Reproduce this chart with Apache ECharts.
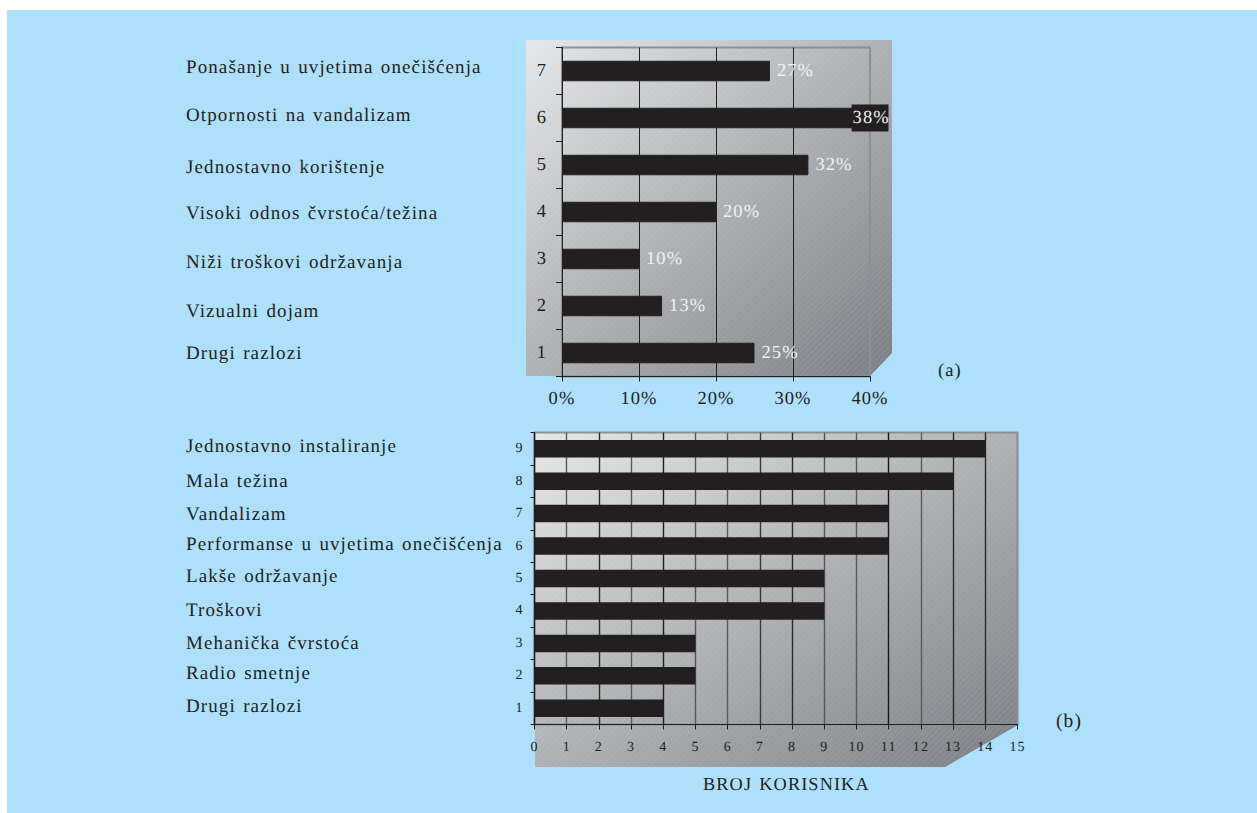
<!DOCTYPE html>
<html>
<head>
<meta charset="utf-8">
<style>
  html, body { margin: 0; padding: 0; background: #fff; }
  #chart { position: absolute; left: 0; top: 0; width: 1257px; height: 813px; }
  /* The typesetting of the figure is loose: open up letters and words */
  #chart svg text { letter-spacing: 1.1px; word-spacing: 1.5px; text-rendering: geometricPrecision; }
</style>
<script src="https://cdn.jsdelivr.net/npm/echarts@6/dist/echarts.min.js"></script>
</head>
<body>
<div id="chart"></div>
<script>
// Survey (a): reasons in per cent, listed from row 1 upward
const reasonsA = ['Drugi razlozi', 'Vizualni dojam', 'Niži troškovi održavanja', 'Visoki odnos čvrstoća/težina',
  'Jednostavno korištenje', 'Otpornosti na vandalizam', 'Ponašanje u uvjetima onečišćenja'];
const rowsA = ['1', '2', '3', '4', '5', '6', '7'];
const percentA = [25, 13, 10, 20, 32, 38, 27];

// Survey (b): number of users, listed from row 1 upward
const reasonsB = ['Drugi razlozi', 'Radio smetnje', 'Mehanička čvrstoća', 'Troškovi', 'Lakše održavanje',
  'Performanse u uvjetima onečišćenja', 'Vandalizam', 'Mala težina', 'Jednostavno instaliranje'];
const rowsB = ['1', '2', '3', '4', '5', '6', '7', '8', '9'];
const usersB = [4, 5, 5, 9, 9, 11, 11, 13, 14];

// Vertical centres of the reason column, same order as the lists above
const reasonYA = [353.5, 311.5, 262.5, 213.5, 167.5, 115.5, 67.5];
const reasonYB = [706.5, 673.5, 643.5, 610.5, 576, 544.5, 514.5, 481, 446];

const INK = '#231f20';
const FRAME = '#8b9095';
const SERIF = '"Liberation Serif", serif';

// Grid line shades, one per tick
const gridShadesA = [INK, INK, INK, INK, FRAME];
const gridShadesB = [INK, '#5a5a5e', '#2e2a2b', '#5a5a5e', '#231f20', '#55565a', '#5a5a5e', '#3a3a3c',
  '#2e2a2b', '#55565a', '#5a5a5e', '#1c1819', '#5a5a5e', '#2e2a2b', '#2e2a2b', FRAME];

// Fine diagonal hatch laid over the shaded panels
function hatchTile() {
  const c = document.createElement('canvas');
  c.width = c.height = 6;
  const g = c.getContext('2d');
  g.strokeStyle = 'rgba(255,255,255,0.09)';
  g.lineWidth = 1;
  g.beginPath();
  g.moveTo(-1, 7); g.lineTo(7, -1);
  g.moveTo(-1, 1); g.lineTo(1, -1);
  g.moveTo(5, 7); g.lineTo(7, 5);
  g.stroke();
  return c;
}
const hatch = { image: hatchTile(), repeat: 'repeat' };
const shade = {
  type: 'linear', x: 0, y: 0, x2: 1, y2: 1,
  colorStops: [{ offset: 0, color: '#e5e7e9' }, { offset: 0.5, color: '#aeb1b4' }, { offset: 1, color: '#7b7f83' }]
};

function panel(points) {
  return [
    { type: 'polygon', z: -2, silent: true, shape: { points }, style: { fill: shade } },
    { type: 'polygon', z: -1, silent: true, shape: { points }, style: { fill: hatch } }
  ];
}
function caption(text, x, y, size) {
  return { type: 'text', z: 5, silent: true, x, y,
    style: { text, fill: INK, font: `${size}px ${SERIF}`, verticalAlign: 'middle' } };
}

function valueAxis(gridIndex, max, interval, fontSize, margin, formatter, splitColor, splitWidth) {
  return {
    type: 'value', gridIndex, min: 0, max, interval,
    axisLine: { show: true, lineStyle: { color: INK, width: 1 } },
    axisTick: { show: true, length: 5, lineStyle: { color: INK, width: 1 } },
    axisLabel: { color: INK, fontFamily: SERIF, fontSize, margin, formatter, hideOverlap: false, showMinLabel: true, showMaxLabel: true },
    splitLine: { show: true, lineStyle: { color: splitColor, width: splitWidth } }
  };
}
function rowAxis(gridIndex, rows, fontSize, margin, tickLen) {
  return {
    type: 'category', gridIndex, data: rows,
    axisLine: { show: true, onZero: false, lineStyle: { color: INK, width: 1 } },
    axisTick: { show: true, length: tickLen, alignWithLabel: false, lineStyle: { color: INK, width: 1 } },
    axisLabel: { color: INK, fontFamily: SERIF, fontSize, margin }
  };
}

const topValue = Math.max(...percentA);

const option = {
  animation: false,
  backgroundColor: '#fff',
  grid: [
    { left: 562, top: 47.5, width: 308, height: 329, show: true, borderColor: FRAME, borderWidth: 2, backgroundColor: 'transparent' },
    { left: 534.5, top: 432.5, width: 483, height: 292, show: true, borderColor: FRAME, borderWidth: 2, backgroundColor: 'transparent' }
  ],
  xAxis: [
    valueAxis(0, 40, 10, 18.5, 13, '{value}%', gridShadesA, 1),
    valueAxis(1, 15, 1, 14, 16, '{value}', gridShadesB, 1.4)
  ],
  yAxis: [
    rowAxis(0, rowsA, 18.5, 15, 6),
    rowAxis(1, rowsB, 14, 11, 4)
  ],
  series: [
    {
      type: 'bar', xAxisIndex: 0, yAxisIndex: 0, barWidth: 20.5, z: 3,
      itemStyle: { color: INK, borderColor: INK, borderWidth: 1 },
      data: percentA.map(v => v === topValue
        ? { value: v, label: { backgroundColor: INK, offset: [-10, 0], padding: [4, 2, 4, 1] } }
        : v),
      label: { show: true, position: 'right', distance: 7, color: '#eef1f3', fontFamily: SERIF, fontSize: 18.5, formatter: '{c}%' }
    },
    {
      type: 'bar', xAxisIndex: 1, yAxisIndex: 1, barWidth: 17.5, z: 3,
      itemStyle: { color: INK },
      data: usersB
    }
  ],
  graphic: { elements: [
    { type: 'rect', z: -3, silent: true, shape: { x: 7, y: 10, width: 1250, height: 803 }, style: { fill: '#aee0fb' } },
    ...panel([[526, 40], [892, 40], [892, 353], [870, 376], [526, 376]]),
    ...panel([[535, 432], [1018, 432], [1018, 725], [945, 767], [535, 767]]),
    ...reasonsA.map((t, i) => caption(t, 186, reasonYA[i], 19)),
    ...reasonsB.map((t, i) => caption(t, 186, reasonYB[i], 19)),
    caption('(a)', 938, 370.5, 18.5),
    caption('(b)', 1056, 721.5, 19.5),
    caption('BROJ KORISNIKA', 703, 784, 18.3)
  ] }
};

echarts.init(document.getElementById('chart'), null, { renderer: 'svg' }).setOption(option);
</script>
</body>
</html>
